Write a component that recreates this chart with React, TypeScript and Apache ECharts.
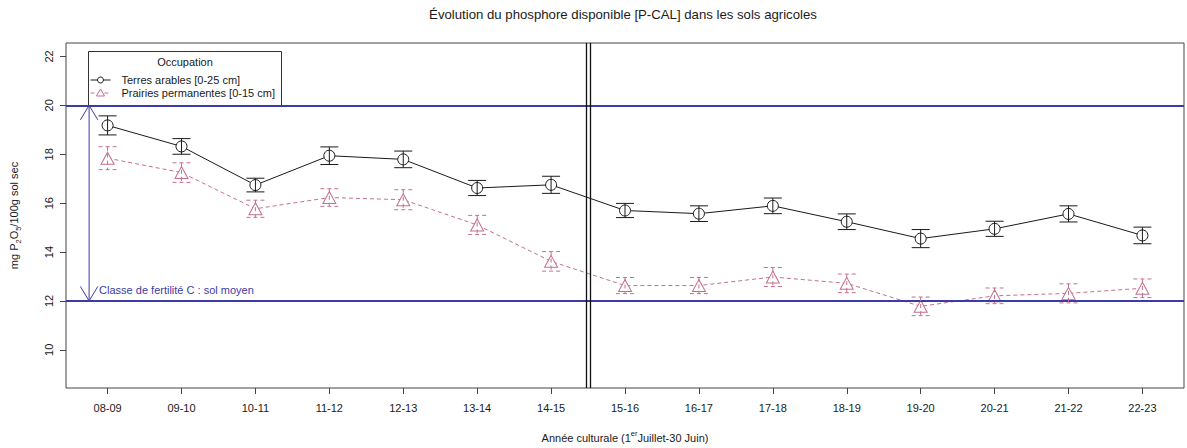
import React, { useEffect, useRef } from "react";
import * as echarts from "echarts";

const categories = ["08-09", "09-10", "10-11", "11-12", "12-13", "13-14", "14-15", "15-16", "16-17", "17-18", "18-19", "19-20", "20-21", "21-22", "22-23"];
const arablesName = "Terres arables [0-25 cm]";
const arablesMean = [19.18, 18.32, 16.74, 17.94, 17.79, 16.62, 16.75, 15.7, 15.57, 15.89, 15.24, 14.55, 14.95, 15.56, 14.68];
const arablesErr = [0.39, 0.32, 0.28, 0.36, 0.34, 0.31, 0.35, 0.29, 0.32, 0.32, 0.32, 0.37, 0.31, 0.33, 0.34];
const prairiesName = "Prairies permanentes [0-15 cm]";
const prairiesMean = [17.84, 17.25, 15.77, 16.23, 16.14, 15.11, 13.62, 12.63, 12.63, 12.98, 12.72, 11.78, 12.21, 12.31, 12.52];
const prairiesErr = [0.47, 0.4, 0.35, 0.36, 0.41, 0.39, 0.4, 0.33, 0.33, 0.39, 0.38, 0.38, 0.32, 0.39, 0.38];
const yTicks = [10, 12, 14, 16, 18, 20, 22];
const thresholds = [20, 12];
const periodBreak = 6.5;
const arrowX = -0.25;
const fertilityLabel = "Classe de fertilité C : sol moyen";
const legendTitle = "Occupation";
const chartTitle = "Évolution du phosphore disponible [P-CAL] dans les sols agricoles";

const FONT = "'Liberation Sans', Arial, sans-serif";
const BLUE = "#3c3ca6";
const PINK = "#c4708c";
const DARK = "#1a1a1a";

function errorBarSeries(name: string, means: number[], errs: number[], color: string, dash: number[] | null) {
  return {
    type: "custom",
    name: name + " err",
    z: 5,
    silent: true,
    encode: { x: 0, y: [1, 2] },
    data: means.map((m, i) => [i, m - errs[i], m + errs[i]]),
    renderItem: (params: any, api: any) => {
      const x = api.value(0);
      const hi = api.coord([x, api.value(2)]);
      const lo = api.coord([x, api.value(1)]);
      const hw = 9;
      const style: any = { stroke: color, lineWidth: 1, fill: null };
      if (dash) style.lineDash = dash;
      return {
        type: "group",
        children: [
          { type: "line", shape: { x1: hi[0], y1: hi[1], x2: lo[0], y2: lo[1] }, style },
          { type: "line", shape: { x1: hi[0] - hw, y1: hi[1], x2: hi[0] + hw, y2: hi[1] }, style },
          { type: "line", shape: { x1: lo[0] - hw, y1: lo[1], x2: lo[0] + hw, y2: lo[1] }, style },
        ],
      };
    },
  };
}

export default function App() {
  const ref = useRef<HTMLDivElement>(null);
  useEffect(() => {
    if (!ref.current) return;
    const chart = echarts.init(ref.current, null, { renderer: "svg" });
    const xVals = categories.map((_, i) => i);
    const option: any = {
      animation: false,
      backgroundColor: "#ffffff",
      textStyle: { fontFamily: FONT },
      title: {
        text: chartTitle,
        left: 623,
        top: 8,
        padding: 0,
        textAlign: "center",
        textStyle: { fontSize: 13.2, fontWeight: "normal", color: DARK, fontFamily: FONT },
      },
      grid: { left: 65, right: 3, top: 43, bottom: 56, show: true, borderColor: "#444", borderWidth: 1, backgroundColor: "transparent" },
      xAxis: {
        type: "value",
        min: -0.5625,
        max: 14.5625,
        axisLine: { show: false, onZero: false },
        splitLine: { show: false },
        axisTick: { show: true, length: 6, inside: false, customValues: xVals, lineStyle: { color: "#444" } },
        axisLabel: {
          customValues: xVals,
          formatter: (v: number) => categories[Math.round(v)] ?? "",
          fontSize: 11,
          color: DARK,
          margin: 14,
          fontFamily: FONT,
        },
        name: "{a|Année culturale (1}{sup|er}{a|Juillet-30 Juin)}",
        nameLocation: "middle",
        nameGap: 41,
        nameTextStyle: {
          rich: {
            a: { fontSize: 11, color: DARK, fontFamily: FONT, lineHeight: 14, verticalAlign: "bottom" },
            sup: { fontSize: 7.5, color: DARK, fontFamily: FONT, lineHeight: 14, verticalAlign: "top", padding: [0, 0, 6, 0] },
          },
        },
      },
      yAxis: {
        type: "value",
        min: 8.44,
        max: 22.55,
        axisLine: { show: false, onZero: false },
        splitLine: { show: false },
        axisTick: { show: true, length: 6, customValues: yTicks, lineStyle: { color: "#444" } },
        axisLabel: { customValues: yTicks, rotate: 90, fontSize: 11, color: DARK, margin: 12, fontFamily: FONT },
        name: "{a|mg P}{sub|2}{a|O}{sub|5}{a|/100g sol sec}",
        nameLocation: "middle",
        nameRotate: 90,
        nameGap: 44,
        nameTextStyle: {
          rich: {
            a: { fontSize: 11, color: DARK, fontFamily: FONT, lineHeight: 14, verticalAlign: "top" },
            sub: { fontSize: 7.5, color: DARK, fontFamily: FONT, lineHeight: 14, verticalAlign: "bottom", padding: [5, 0, 0, 0] },
          },
        },
      },
      series: [
        {
          type: "line",
          name: "refs",
          data: [],
          silent: true,
          markLine: {
            silent: true,
            symbol: "none",
            label: { show: false },
            animation: false,
            data: thresholds.map((t) => ({ yAxis: t, lineStyle: { color: BLUE, width: 2, type: "solid" } })).concat([
              { xAxis: periodBreak - 0.027, lineStyle: { color: "#111", width: 1.3, type: "solid" } } as any,
              { xAxis: periodBreak + 0.027, lineStyle: { color: "#111", width: 1.3, type: "solid" } } as any,
            ]),
          },
        },
        {
          type: "custom",
          name: "arrow",
          silent: true,
          z: 6,
          encode: { x: 0, y: [1, 2] },
          data: [[arrowX, thresholds[1], thresholds[0]]],
          renderItem: (params: any, api: any) => {
            const x = api.value(0);
            const top = api.coord([x, api.value(2)]);
            const bot = api.coord([x, api.value(1)]);
            const dx = 8.7;
            const dy = 14.5;
            const style = { stroke: BLUE, lineWidth: 1, fill: null };
            return {
              type: "group",
              children: [
                { type: "line", shape: { x1: top[0], y1: top[1], x2: bot[0], y2: bot[1] }, style },
                { type: "polyline", shape: { points: [[top[0] - dx, top[1] + dy], [top[0], top[1]], [top[0] + dx, top[1] + dy]] }, style },
                { type: "polyline", shape: { points: [[bot[0] - dx, bot[1] - dy], [bot[0], bot[1]], [bot[0] + dx, bot[1] - dy]] }, style },
                {
                  type: "text",
                  x: bot[0] + 10,
                  y: bot[1] - 11,
                  style: { text: fertilityLabel, fill: BLUE, fontSize: 11, fontFamily: FONT, align: "left", verticalAlign: "middle" },
                },
              ],
            };
          },
        },
        {
          type: "line",
          name: prairiesName,
          data: prairiesMean.map((m, i) => [i, m]),
          z: 3,
          symbol: "triangle",
          symbolSize: [13, 12],
          showSymbol: true,
          lineStyle: { color: PINK, width: 1, type: [4, 3] },
          itemStyle: { color: "#ffffff", borderColor: PINK, borderWidth: 1 },
          silent: true,
        },
        {
          type: "line",
          name: arablesName,
          data: arablesMean.map((m, i) => [i, m]),
          z: 4,
          symbol: "circle",
          symbolSize: 11,
          showSymbol: true,
          lineStyle: { color: DARK, width: 1 },
          itemStyle: { color: "#ffffff", borderColor: DARK, borderWidth: 1 },
          silent: true,
        },
        errorBarSeries(prairiesName, prairiesMean, prairiesErr, PINK, [4, 3]),
        errorBarSeries(arablesName, arablesMean, arablesErr, DARK, null),
      ],
      graphic: [
        {
          type: "group",
          left: 88,
          top: 51,
          z: 1,
          children: [
            { type: "rect", shape: { x: 0, y: 0, width: 193, height: 55 }, style: { fill: "#ffffff", stroke: "#333", lineWidth: 1 } },
            { type: "text", x: 96.5, y: 10, style: { text: legendTitle, fill: DARK, fontSize: 11, fontFamily: FONT, align: "center", verticalAlign: "middle" } },
            { type: "line", shape: { x1: 2, y1: 28.5, x2: 22, y2: 28.5 }, style: { stroke: DARK, lineWidth: 1 } },
            { type: "circle", shape: { cx: 12, cy: 28.5, r: 3 }, style: { stroke: DARK, fill: "#fff", lineWidth: 1 } },
            { type: "text", x: 33, y: 28.5, style: { text: arablesName, fill: DARK, fontSize: 11, fontFamily: FONT, align: "left", verticalAlign: "middle" } },
            { type: "line", shape: { x1: 2, y1: 41.5, x2: 22, y2: 41.5 }, style: { stroke: PINK, lineWidth: 1, lineDash: [4, 3] } },
            { type: "polygon", shape: { points: [[12, 37.5], [8, 44.5], [16, 44.5]] }, style: { stroke: PINK, fill: "#fff", lineWidth: 1 } },
            { type: "text", x: 33, y: 41.5, style: { text: prairiesName, fill: DARK, fontSize: 11, fontFamily: FONT, align: "left", verticalAlign: "middle" } },
          ],
        },
      ],
    };
    chart.setOption(option);
    return () => chart.dispose();
  }, []);
  return <div ref={ref} style={{ position: "fixed", left: 0, top: 0, width: 1187, height: 448, background: "#fff" }} />;
}
